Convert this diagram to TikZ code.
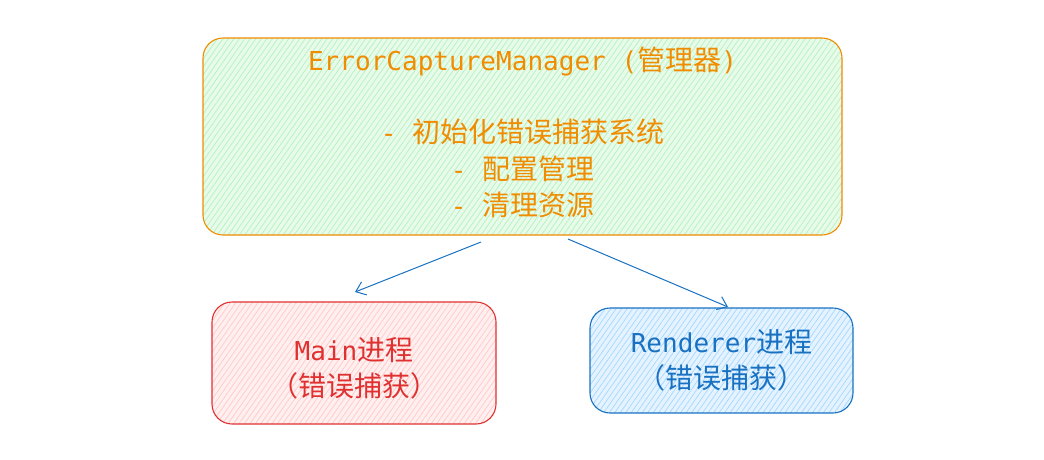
\documentclass[tikz,border=0pt]{standalone}
\usepackage{fontspec}
\usetikzlibrary{arrows.meta,patterns.meta}
\newfontfamily\lat{DejaVu Sans Mono}[Scale=0.93]
\newfontfamily\cjk{Noto Sans CJK SC}
\definecolor{orangeS}{HTML}{F08C00}
\definecolor{greenF}{HTML}{B2F2BB}
\definecolor{redS}{HTML}{E03131}
\definecolor{redF}{HTML}{FFC9C9}
\definecolor{blueS}{HTML}{1971C2}
\definecolor{blueF}{HTML}{A5D8FF}
\tikzset{
  box/.style={draw=#1S, line width=1.1pt, rounded corners=20pt, align=center,
    font=\fontsize{28}{36.5}\selectfont, text=#1S, inner sep=0pt,
    preaction={fill=#1F!30},
    pattern={Lines[angle=55,distance=4.5pt,line width=0.7pt]}, pattern color=#1F},
  arr/.style={draw=blueS, line width=1pt, -{Straight Barb[length=9pt,width=14pt,line width=1pt]}}
}
\begin{document}
\begin{tikzpicture}[x=1pt,y=-1pt]
\useasboundingbox (0,0) rectangle (1044,459);
\colorlet{orangeF}{greenF}
\node[box=orange, minimum width=639pt, minimum height=197pt] (mgr) at (522.5,136.5)
  {{\lat ErrorCaptureManager (}{\cjk 管理器}{\lat )}\\[36pt]
   {\lat - }{\cjk 初始化错误捕获系统}\\
   {\lat - }{\cjk 配置管理}\\
   {\lat - }{\cjk 清理资源}\rule[-11pt]{0pt}{1pt}};
\node[box=red, minimum width=284pt, minimum height=122pt] (main) at (354,363)
  {\rule{0pt}{34pt}{\lat Main}{\cjk 进程}\\{\cjk （错误捕获）}};
\node[box=blue, minimum width=263pt, minimum height=105pt] (rend) at (721.5,360.5)
  {{\lat Renderer}{\cjk 进程}\\{\cjk （错误捕获）}};
\coordinate (s1) at (481,242);
\coordinate (e1) at (355,292);
\coordinate (s2) at (568,239);
\coordinate (e2) at (728,307);
\draw[arr] (s1) -- (e1);
\draw[arr] (s2) -- (e2);
\end{tikzpicture}
\end{document}
